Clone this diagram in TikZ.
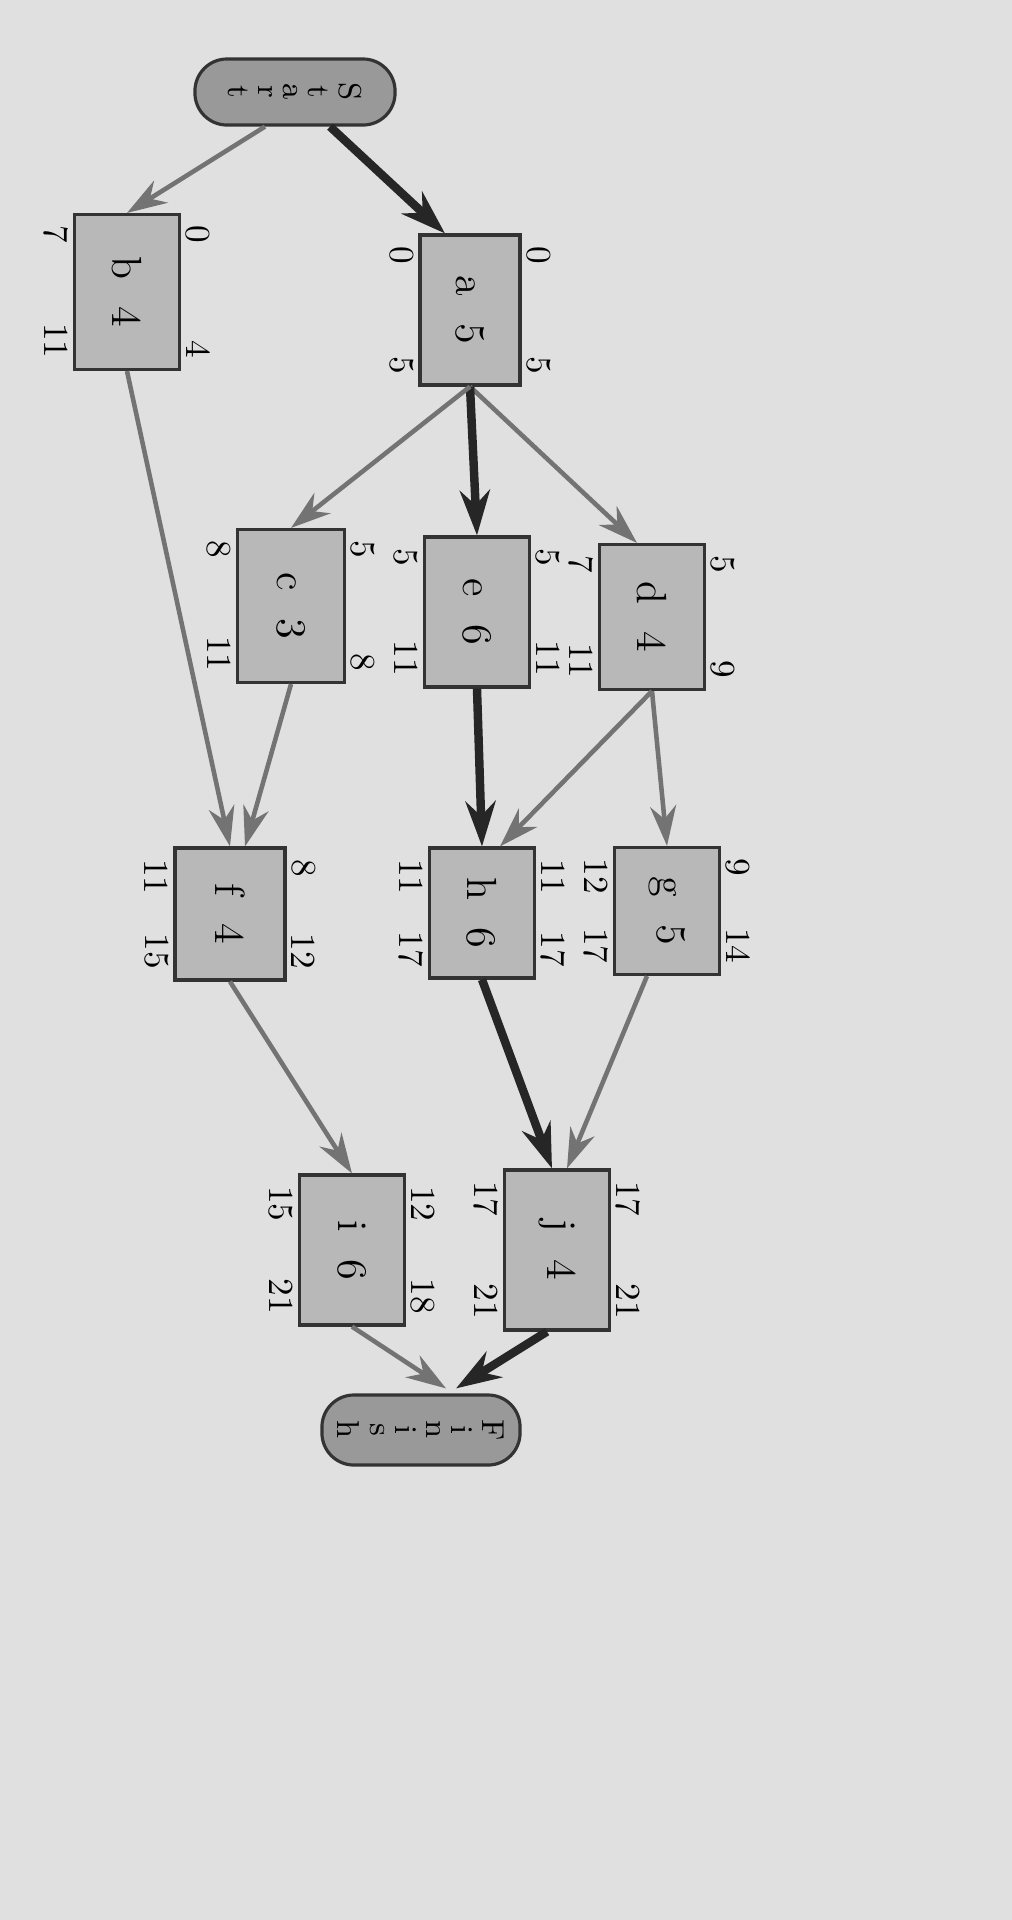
\documentclass[tikz,border=0pt]{standalone}
\usetikzlibrary{arrows.meta}
\begin{document}
\begin{tikzpicture}[x=0.01cm,y=-0.01cm,
 box/.style={draw=black!80,fill=black!28,line width=0.9pt,inner sep=0pt},
 pill/.style={draw=black!80,fill=black!40,line width=0.9pt,rounded corners=3.2mm,inner sep=0pt},
 num/.style={inner sep=0pt,font=\normalsize},
 thin/.style={draw=black!55,line width=1.3pt,-{Stealth[length=4mm,width=2.6mm]}},
 thick/.style={draw=black!85,line width=2.4pt,-{Stealth[length=4.5mm,width=3mm]}}]
\fill[black!12] (0,0) rectangle (1012,1920);
\useasboundingbox (0,0) rectangle (1012,1920);
\newcommand\bx[6]{\node[box,minimum width=#4*0.01cm,minimum height=#5*0.01cm] (#1) at (#2,#3) {\rotatebox{-90}{\large #6}};}
\newcommand\nums[5]{%
 \node[num,anchor=north] at ([xshift=0.17cm,yshift=-0.12cm]#1.north east) {\rotatebox{-90}{#2}};
 \node[num,anchor=south] at ([xshift=0.17cm,yshift=0.12cm]#1.south east) {\rotatebox{-90}{#3}};
 \node[num,anchor=north] at ([xshift=-0.17cm,yshift=-0.12cm]#1.north west) {\rotatebox{-90}{#4}};
 \node[num,anchor=south] at ([xshift=-0.17cm,yshift=0.12cm]#1.south west) {\rotatebox{-90}{#5}};}
\bx{a}{470}{310}{100}{150}{a\ \ 5}
\bx{b}{127}{292}{105}{155}{b\ \ 4}
\bx{d}{652}{617}{105}{145}{d\ \ 4}
\bx{e}{477}{612}{105}{150}{e\ \ 6}
\bx{c}{291}{606}{107}{153}{c\ \ 3}
\bx{g}{667}{911}{105}{127}{g\ \ 5}
\bx{h}{482}{913}{105}{130}{h\ \ 6}
\bx{f}{230}{914}{110}{132}{f\ \ 4}
\bx{j}{557}{1250}{105}{160}{j\ \ 4}
\bx{i}{352}{1250}{105}{150}{i\ \ 6}
\nums{a}{0}{5}{0}{5}
\nums{b}{0}{4}{7}{11}
\nums{d}{5}{9}{7}{11}
\nums{e}{5}{11}{5}{11}
\nums{c}{5}{8}{8}{11}
\nums{g}{9}{14}{12}{17}
\nums{h}{11}{17}{11}{17}
\nums{f}{8}{12}{11}{15}
\nums{j}{17}{21}{17}{21}
\nums{i}{12}{18}{15}{21}
\node[pill,minimum width=2cm,minimum height=0.66cm] (start) at (295,92) {\rotatebox{-90}{\small\shortstack{S\\t\\a\\r\\t}}};
\node[pill,minimum width=1.98cm,minimum height=0.7cm] (finish) at (421,1430) {\rotatebox{-90}{\small\shortstack{F\\i\\n\\i\\s\\h}}};
% edges
\draw[thick] ([xshift=0.35cm]start.south) -- ([xshift=-0.25cm]a.north);
\draw[thin] ([xshift=-0.3cm]start.south) -- (b.north);
\draw[thin] (a.south) -- ([xshift=-0.15cm]d.north);
\draw[thick] (a.south) -- (e.north);
\draw[thin] (a.south) -- (c.north);
\draw[thin] (d.south) -- (g.north);
\draw[thin] (d.south) -- ([xshift=0.18cm]h.north);
\draw[thick] (e.south) -- (h.north);
\draw[thin] (c.south) -- ([xshift=0.15cm]f.north);
\draw[thin] (b.south) -- (f.north);
\draw[thin] ([xshift=-0.2cm]g.south) -- ([xshift=0.1cm]j.north);
\draw[thick] (h.south) -- ([xshift=-0.05cm]j.north);
\draw[thin] (f.south) -- (i.north);
\draw[thick] ([xshift=-0.1cm]j.south) -- ([xshift=0.35cm,yshift=0.05cm]finish.north);
\draw[thin] (i.south) -- ([xshift=0.25cm,yshift=0.05cm]finish.north);
\end{tikzpicture}
\end{document}
